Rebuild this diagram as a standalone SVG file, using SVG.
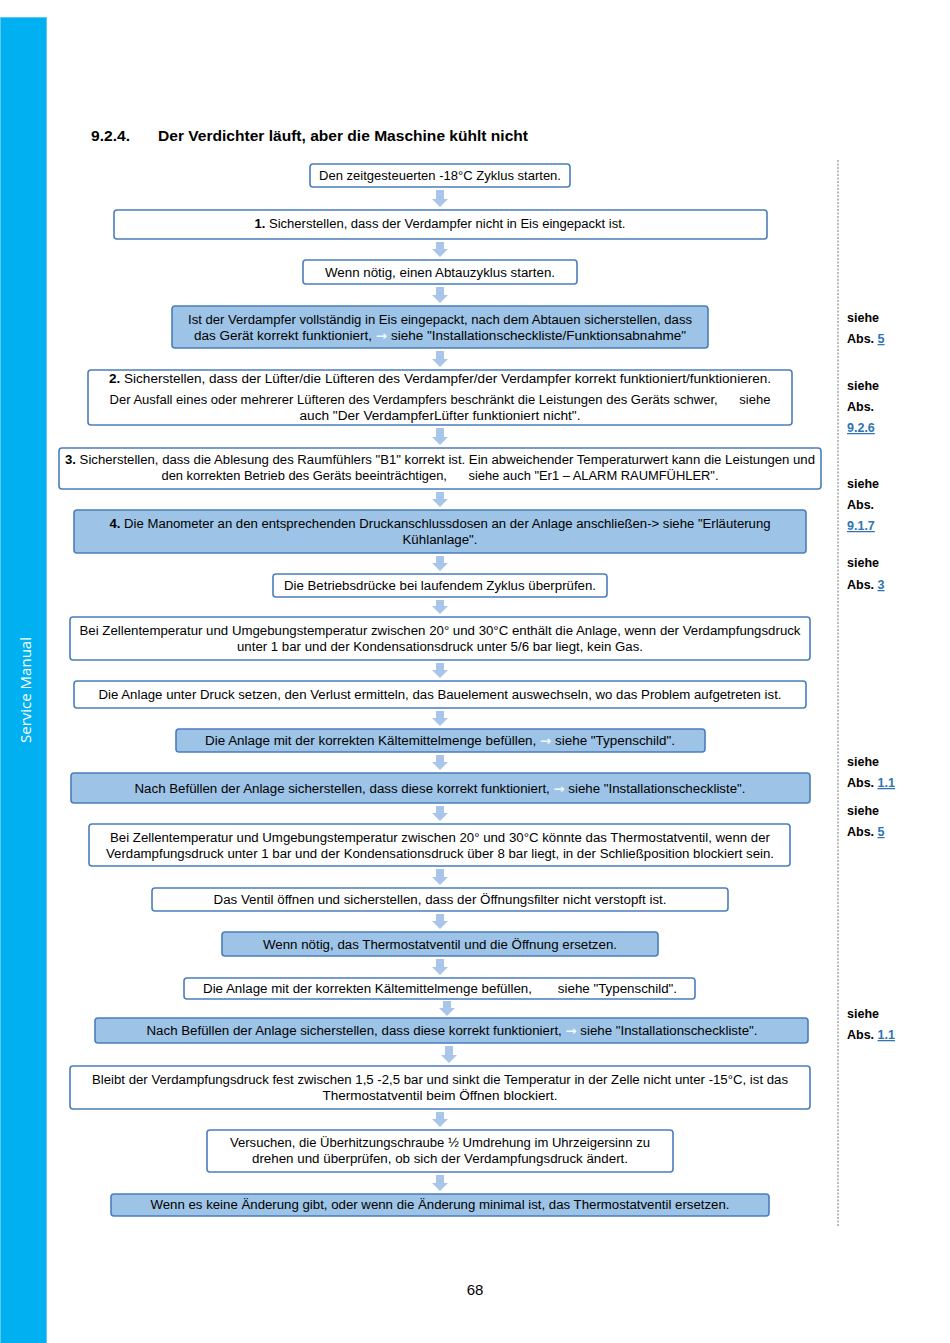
<svg xmlns="http://www.w3.org/2000/svg" width="950" height="1343" viewBox="0 0 950 1343">
<defs>
<style>
.b{fill:#ffffff;stroke:#4a7ebb;stroke-width:1.6}
.f{fill:#9dc3e6;stroke:#4a7ebb;stroke-width:1.6}
.t{font-family:"Liberation Sans",Arial,sans-serif;font-size:12.5px;fill:#000;text-anchor:middle}
.r{font-family:"Liberation Sans",Arial,sans-serif;font-size:12.5px;font-weight:bold;fill:#000}
.lk{fill:#2e74b5;text-decoration:underline}
.ar{fill:#a9c5ea}
.wa{fill:#f2f7fd;font-weight:bold;font-family:"DejaVu Sans",sans-serif}
</style>
</defs>
<rect x="0" y="17" width="47" height="1326" fill="#00b0f0"/>
<rect x="0.5" y="17.5" width="46" height="1326" fill="none" stroke="#5ec8f4" stroke-width="1"/>
<text transform="translate(31,690) rotate(-90)" font-family="Open Sans,Liberation Sans,sans-serif" font-size="15" fill="#ffffff" text-anchor="middle">Service Manual</text>
<text x="91" y="141" font-family="Liberation Sans,Arial,sans-serif" font-size="15.5" font-weight="bold" textLength="39" lengthAdjust="spacingAndGlyphs">9.2.4.</text>
<text x="158" y="141" font-family="Liberation Sans,Arial,sans-serif" font-size="15.5" font-weight="bold" textLength="370" lengthAdjust="spacingAndGlyphs">Der Verdichter läuft, aber die Maschine kühlt nicht</text>
<line x1="838" y1="160" x2="838" y2="1226" stroke="#777" stroke-width="1" stroke-dasharray="2,1.5"/>
<g id="connectors">
<path class="ar" d="M436,190H444V199H448L440,207L432,199H436Z"/>
<path class="ar" d="M436,242H444V249H448L440,257L432,249H436Z"/>
<path class="ar" d="M436,287H444V295H448L440,303L432,295H436Z"/>
<path class="ar" d="M436,351H444V359H448L440,367L432,359H436Z"/>
<path class="ar" d="M436,428H444V437H448L440,445L432,437H436Z"/>
<path class="ar" d="M436,492H444V499H448L440,507L432,499H436Z"/>
<path class="ar" d="M436,556H444V563H448L440,571L432,563H436Z"/>
<path class="ar" d="M436,600H444V606H448L440,614L432,606H436Z"/>
<path class="ar" d="M436,663H444V670H448L440,678L432,670H436Z"/>
<path class="ar" d="M436,711H444V718H448L440,726L432,718H436Z"/>
<path class="ar" d="M436,755H444V762H448L440,770L432,762H436Z"/>
<path class="ar" d="M436,806H444V813H448L440,821L432,813H436Z"/>
<path class="ar" d="M436,869H444V877H448L440,885L432,877H436Z"/>
<path class="ar" d="M436,914H444V921H448L440,929L432,921H436Z"/>
<path class="ar" d="M436,959H444V967H448L440,975L432,967H436Z"/>
<path class="ar" d="M443,1001H451V1008H455L447,1016L439,1008H443Z"/>
<path class="ar" d="M445,1046H453V1055H457L449,1063L441,1055H445Z"/>
<path class="ar" d="M436,1112H444V1119H448L440,1127L432,1119H436Z"/>
<path class="ar" d="M436,1175H444V1183H448L440,1191L432,1183H436Z"/>
</g>
<g id="n1"><rect class="b" x="310" y="164" width="260" height="23" rx="3"/><text class="t" x="440" y="180" textLength="242" lengthAdjust="spacingAndGlyphs">Den zeitgesteuerten -18°C Zyklus starten.</text></g>
<g id="n2"><rect class="b" x="114" y="210" width="653" height="29" rx="3"/><text class="t" x="440" y="228" textLength="371" lengthAdjust="spacingAndGlyphs"><tspan font-weight="bold">1.</tspan> Sicherstellen, dass der Verdampfer nicht in Eis eingepackt ist.</text></g>
<g id="n3"><rect class="b" x="303" y="260" width="274" height="24" rx="3"/><text class="t" x="440" y="277" textLength="230" lengthAdjust="spacingAndGlyphs">Wenn nötig, einen Abtauzyklus starten.</text></g>
<g id="n4"><rect class="f" x="172" y="306" width="536" height="42" rx="3"/><text class="t" x="440" y="324" textLength="504" lengthAdjust="spacingAndGlyphs">Ist der Verdampfer vollständig in Eis eingepackt, nach dem Abtauen sicherstellen, dass</text><text class="t" x="440" y="340" textLength="492" lengthAdjust="spacingAndGlyphs">das Gerät korrekt funktioniert, <tspan class="wa">→</tspan> siehe "Installationscheckliste/Funktionsabnahme"</text></g>
<g id="n5"><rect class="b" x="88" y="370" width="704" height="55" rx="3"/><text class="t" x="440" y="383" textLength="662" lengthAdjust="spacingAndGlyphs"><tspan font-weight="bold">2.</tspan> Sicherstellen, dass der Lüfter/die Lüfteren des Verdampfer/der Verdampfer korrekt funktioniert/funktionieren.</text><text class="t" x="440" y="404" textLength="661" lengthAdjust="spacingAndGlyphs" xml:space="preserve">Der Ausfall eines oder mehrerer Lüfteren des Verdampfers beschränkt die Leistungen des Geräts schwer,      siehe</text><text class="t" x="440" y="420" textLength="281" lengthAdjust="spacingAndGlyphs">auch "Der VerdampferLüfter funktioniert nicht".</text></g>
<g id="n6"><rect class="b" x="59" y="448" width="762" height="41" rx="3"/><text class="t" x="440" y="464" textLength="750" lengthAdjust="spacingAndGlyphs"><tspan font-weight="bold">3.</tspan> Sicherstellen, dass die Ablesung des Raumfühlers "B1" korrekt ist. Ein abweichender Temperaturwert kann die Leistungen und</text><text class="t" x="440" y="480" textLength="557" lengthAdjust="spacingAndGlyphs" xml:space="preserve">den korrekten Betrieb des Geräts beeinträchtigen,      siehe auch "Er1 – ALARM RAUMFÜHLER".</text></g>
<g id="n7"><rect class="f" x="74" y="510" width="732" height="43" rx="3"/><text class="t" x="440" y="528" textLength="661" lengthAdjust="spacingAndGlyphs"><tspan font-weight="bold">4.</tspan> Die Manometer an den entsprechenden Druckanschlussdosen an der Anlage anschließen-&gt; siehe "Erläuterung</text><text class="t" x="440" y="544" textLength="75" lengthAdjust="spacingAndGlyphs">Kühlanlage".</text></g>
<g id="n8"><rect class="b" x="273" y="574" width="334" height="23" rx="3"/><text class="t" x="440" y="590" textLength="312" lengthAdjust="spacingAndGlyphs">Die Betriebsdrücke bei laufendem Zyklus überprüfen.</text></g>
<g id="n9"><rect class="b" x="70" y="617" width="740" height="43" rx="3"/><text class="t" x="440" y="635" textLength="721" lengthAdjust="spacingAndGlyphs">Bei Zellentemperatur und Umgebungstemperatur zwischen 20° und 30°C enthält die Anlage, wenn der Verdampfungsdruck</text><text class="t" x="440" y="651" textLength="406" lengthAdjust="spacingAndGlyphs">unter 1 bar und der Kondensationsdruck unter 5/6 bar liegt, kein Gas.</text></g>
<g id="n10"><rect class="b" x="74" y="681" width="732" height="27" rx="3"/><text class="t" x="440" y="699" textLength="683" lengthAdjust="spacingAndGlyphs">Die Anlage unter Druck setzen, den Verlust ermitteln, das Bauelement auswechseln, wo das Problem aufgetreten ist.</text></g>
<g id="n11"><rect class="f" x="176" y="729" width="529" height="23" rx="3"/><text class="t" x="440" y="745" textLength="470" lengthAdjust="spacingAndGlyphs">Die Anlage mit der korrekten Kältemittelmenge befüllen, <tspan class="wa">→</tspan> siehe "Typenschild".</text></g>
<g id="n12"><rect class="f" x="71" y="773" width="739" height="30" rx="3"/><text class="t" x="440" y="793" textLength="611" lengthAdjust="spacingAndGlyphs">Nach Befüllen der Anlage sicherstellen, dass diese korrekt funktioniert, <tspan class="wa">→</tspan> siehe "Installationscheckliste".</text></g>
<g id="n13"><rect class="b" x="89" y="824" width="701" height="42" rx="3"/><text class="t" x="440" y="842" textLength="660" lengthAdjust="spacingAndGlyphs">Bei Zellentemperatur und Umgebungstemperatur zwischen 20° und 30°C könnte das Thermostatventil, wenn der</text><text class="t" x="440" y="858" textLength="668" lengthAdjust="spacingAndGlyphs">Verdampfungsdruck unter 1 bar und der Kondensationsdruck über 8 bar liegt, in der Schließposition blockiert sein.</text></g>
<g id="n14"><rect class="b" x="152" y="888" width="576" height="23" rx="3"/><text class="t" x="440" y="904" textLength="453" lengthAdjust="spacingAndGlyphs">Das Ventil öffnen und sicherstellen, dass der Öffnungsfilter nicht verstopft ist.</text></g>
<g id="n15"><rect class="f" x="222" y="932" width="436" height="24" rx="3"/><text class="t" x="440" y="949" textLength="354" lengthAdjust="spacingAndGlyphs">Wenn nötig, das Thermostatventil und die Öffnung ersetzen.</text></g>
<g id="n16"><rect class="b" x="184" y="978" width="511" height="21" rx="3"/><text class="t" x="440" y="993" textLength="474" lengthAdjust="spacingAndGlyphs" xml:space="preserve">Die Anlage mit der korrekten Kältemittelmenge befüllen,       siehe "Typenschild".</text></g>
<g id="n17"><rect class="f" x="95" y="1018" width="713" height="25" rx="3"/><text class="t" x="452" y="1035" textLength="611" lengthAdjust="spacingAndGlyphs">Nach Befüllen der Anlage sicherstellen, dass diese korrekt funktioniert, <tspan class="wa">→</tspan> siehe "Installationscheckliste".</text></g>
<g id="n18"><rect class="b" x="70" y="1066" width="740" height="43" rx="3"/><text class="t" x="440" y="1084" textLength="696" lengthAdjust="spacingAndGlyphs">Bleibt der Verdampfungsdruck fest zwischen 1,5 -2,5 bar und sinkt die Temperatur in der Zelle nicht unter -15°C, ist das</text><text class="t" x="440" y="1100" textLength="235" lengthAdjust="spacingAndGlyphs">Thermostatventil beim Öffnen blockiert.</text></g>
<g id="n19"><rect class="b" x="207" y="1130" width="466" height="42" rx="3"/><text class="t" x="440" y="1147" textLength="420" lengthAdjust="spacingAndGlyphs">Versuchen, die Überhitzungschraube ½ Umdrehung im Uhrzeigersinn zu</text><text class="t" x="440" y="1163" textLength="376" lengthAdjust="spacingAndGlyphs">drehen und überprüfen, ob sich der Verdampfungsdruck ändert.</text></g>
<g id="n20"><rect class="f" x="111" y="1194" width="658" height="22" rx="3"/><text class="t" x="440" y="1209" textLength="579" lengthAdjust="spacingAndGlyphs">Wenn es keine Änderung gibt, oder wenn die Änderung minimal ist, das Thermostatventil ersetzen.</text></g>
<g id="refs">
<text class="r" x="847" y="322">siehe</text><text class="r" x="847" y="343">Abs. <tspan class="lk">5</tspan></text>
<text class="r" x="847" y="390">siehe</text><text class="r" x="847" y="411">Abs.</text><text class="r lk" x="847" y="432">9.2.6</text>
<text class="r" x="847" y="488">siehe</text><text class="r" x="847" y="509">Abs.</text><text class="r lk" x="847" y="530">9.1.7</text>
<text class="r" x="847" y="567">siehe</text><text class="r" x="847" y="589">Abs. <tspan class="lk">3</tspan></text>
<text class="r" x="847" y="766">siehe</text><text class="r" x="847" y="787">Abs. <tspan class="lk">1.1</tspan></text>
<text class="r" x="847" y="815">siehe</text><text class="r" x="847" y="836">Abs. <tspan class="lk">5</tspan></text>
<text class="r" x="847" y="1018">siehe</text><text class="r" x="847" y="1039">Abs. <tspan class="lk">1.1</tspan></text>
</g>
<text x="475" y="1295" font-family="Liberation Sans,Arial,sans-serif" font-size="15" text-anchor="middle">68</text>
</svg>
